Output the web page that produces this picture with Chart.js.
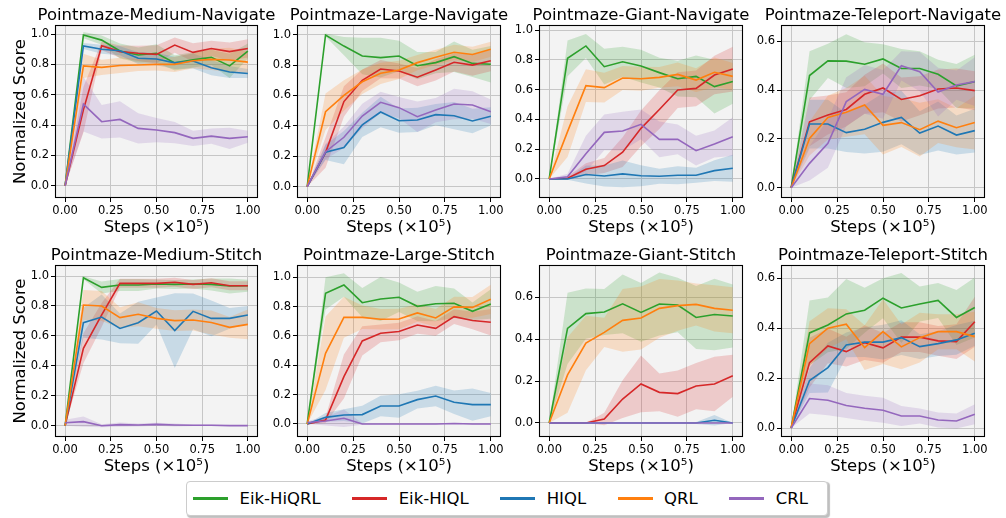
<!DOCTYPE html>
<html><head><meta charset="utf-8">
<script src="https://cdn.jsdelivr.net/npm/chart.js@4.4.1/dist/chart.umd.min.js"></script>
<style>
html,body{margin:0;padding:0;background:#fff;width:1006px;height:518px;overflow:hidden;font-family:"DejaVu Sans",sans-serif;}
canvas.pc{position:absolute;}
.ttl{position:absolute;width:300px;text-align:center;white-space:nowrap;font-size:16.5px;line-height:20px;color:#000;}
#legend{position:absolute;left:186px;top:481px;width:642px;height:35px;box-sizing:border-box;border:1px solid #cccccc;border-radius:4px;background:#fff;display:flex;align-items:center;padding-left:6px;font-size:16.5px;color:#000;box-shadow:1.5px 1.5px 1px rgba(0,0,0,0.25);white-space:nowrap;}
#legend .it{display:flex;align-items:center;margin-right:31.5px;}
#legend .it:last-child{margin-right:0;}
#legend .ln{display:inline-block;width:35px;height:3px;margin-right:11.5px;}
</style>
</head><body>
<div id="legend"></div>
<script>
// ---------------- data ----------------
const steps = [0, 0.1, 0.2, 0.3, 0.4, 0.5, 0.6, 0.7, 0.8, 0.9, 1.0];
const methods = ['Eik-HiQRL', 'Eik-HIQL', 'HIQL', 'QRL', 'CRL'];
const xTickValues = [0, 0.25, 0.5, 0.75, 1.0];
const yTicksFull = [0, 0.2, 0.4, 0.6, 0.8, 1.0];
const yTicksLow = [0, 0.2, 0.4, 0.6];
const panelTitles = ['Pointmaze-Medium-Navigate', 'Pointmaze-Large-Navigate', 'Pointmaze-Giant-Navigate', 'Pointmaze-Teleport-Navigate',
  'Pointmaze-Medium-Stitch', 'Pointmaze-Large-Stitch', 'Pointmaze-Giant-Stitch', 'Pointmaze-Teleport-Stitch'];

// rows: Eik-HiQRL, Eik-HIQL, HIQL, QRL, CRL
const medNavMean = [
  [0, 0.993, 0.96, 0.888, 0.862, 0.873, 0.81, 0.83, 0.846, 0.79, 0.888],
  [0, 0.50, 0.923, 0.884, 0.873, 0.866, 0.927, 0.879, 0.905, 0.884, 0.905],
  [0, 0.921, 0.90, 0.89, 0.84, 0.835, 0.81, 0.822, 0.778, 0.75, 0.74],
  [0, 0.79, 0.78, 0.793, 0.796, 0.80, 0.80, 0.824, 0.833, 0.829, 0.815],
  [0, 0.538, 0.422, 0.437, 0.378, 0.367, 0.35, 0.312, 0.327, 0.312, 0.323]];
const medNavStd = [
  [0, 0.02, 0.03, 0.05, 0.05, 0.06, 0.05, 0.05, 0.05, 0.08, 0.05],
  [0, 0.15, 0.03, 0.04, 0.05, 0.06, 0.05, 0.06, 0.05, 0.06, 0.06],
  [0, 0.02, 0.03, 0.03, 0.04, 0.04, 0.04, 0.05, 0.05, 0.04, 0.03],
  [0, 0.08, 0.05, 0.05, 0.04, 0.04, 0.05, 0.05, 0.07, 0.08, 0.07],
  [0, 0.18, 0.11, 0.12, 0.10, 0.08, 0.07, 0.05, 0.05, 0.07, 0.04]];

const largeNavMean = [
  [0, 0.998, 0.925, 0.86, 0.849, 0.86, 0.796, 0.816, 0.855, 0.811, 0.805],
  [0, 0.224, 0.56, 0.70, 0.774, 0.761, 0.72, 0.768, 0.818, 0.80, 0.829],
  [0, 0.226, 0.257, 0.406, 0.491, 0.434, 0.439, 0.474, 0.467, 0.432, 0.463],
  [0, 0.493, 0.60, 0.69, 0.746, 0.768, 0.816, 0.851, 0.884, 0.87, 0.904],
  [0, 0.23, 0.325, 0.465, 0.555, 0.52, 0.46, 0.504, 0.544, 0.537, 0.493]];
const largeNavStd = [
  [0, 0.01, 0.06, 0.12, 0.13, 0.10, 0.09, 0.07, 0.10, 0.09, 0.12],
  [0, 0.10, 0.10, 0.07, 0.06, 0.05, 0.06, 0.07, 0.06, 0.07, 0.07],
  [0, 0.05, 0.11, 0.08, 0.10, 0.08, 0.08, 0.07, 0.09, 0.08, 0.06],
  [0, 0.12, 0.10, 0.08, 0.07, 0.06, 0.05, 0.05, 0.05, 0.05, 0.05],
  [0, 0.05, 0.07, 0.08, 0.07, 0.07, 0.10, 0.08, 0.10, 0.09, 0.08]];

const giantNavMean = [
  [0, 0.81, 0.893, 0.754, 0.787, 0.758, 0.714, 0.673, 0.689, 0.62, 0.655],
  [0, 0.005, 0.065, 0.09, 0.18, 0.34, 0.466, 0.597, 0.608, 0.698, 0.738],
  [0, 0.0, 0.03, 0.02, 0.034, 0.022, 0.018, 0.025, 0.025, 0.056, 0.072],
  [0, 0.318, 0.626, 0.613, 0.678, 0.673, 0.682, 0.702, 0.664, 0.716, 0.689],
  [0, 0.015, 0.17, 0.313, 0.322, 0.367, 0.266, 0.266, 0.19, 0.235, 0.284]];
const giantNavStd = [
  [0, 0.12, 0.08, 0.12, 0.10, 0.11, 0.10, 0.12, 0.14, 0.18, 0.15],
  [0, 0.01, 0.04, 0.05, 0.10, 0.12, 0.13, 0.12, 0.12, 0.13, 0.15],
  [0, 0.005, 0.06, 0.07, 0.09, 0.07, 0.05, 0.06, 0.05, 0.07, 0.09],
  [0, 0.17, 0.11, 0.10, 0.08, 0.08, 0.07, 0.08, 0.08, 0.10, 0.09],
  [0, 0.02, 0.12, 0.12, 0.13, 0.10, 0.12, 0.10, 0.10, 0.09, 0.13]];

const teleNavMean = [
  [0, 0.46, 0.52, 0.519, 0.506, 0.528, 0.489, 0.489, 0.465, 0.417, 0.435],
  [0, 0.27, 0.298, 0.321, 0.383, 0.409, 0.362, 0.377, 0.405, 0.409, 0.398],
  [0, 0.261, 0.261, 0.226, 0.24, 0.268, 0.288, 0.224, 0.253, 0.216, 0.234],
  [0, 0.202, 0.288, 0.309, 0.339, 0.256, 0.267, 0.238, 0.273, 0.246, 0.267],
  [0, 0.10, 0.182, 0.353, 0.403, 0.383, 0.50, 0.476, 0.392, 0.421, 0.435]];
const teleNavStd = [
  [0, 0.10, 0.07, 0.11, 0.09, 0.06, 0.08, 0.07, 0.06, 0.09, 0.11],
  [0, 0.10, 0.08, 0.07, 0.08, 0.10, 0.09, 0.08, 0.08, 0.08, 0.08],
  [0, 0.10, 0.10, 0.08, 0.10, 0.12, 0.11, 0.09, 0.10, 0.08, 0.09],
  [0, 0.07, 0.09, 0.10, 0.12, 0.12, 0.10, 0.11, 0.09, 0.08, 0.11],
  [0, 0.07, 0.10, 0.10, 0.10, 0.10, 0.06, 0.08, 0.10, 0.06, 0.10]];

const medStitchMean = [
  [0, 0.989, 0.924, 0.94, 0.94, 0.947, 0.944, 0.947, 0.944, 0.933, 0.935],
  [0, 0.517, 0.74, 0.951, 0.951, 0.951, 0.958, 0.944, 0.955, 0.935, 0.935],
  [0, 0.688, 0.726, 0.65, 0.688, 0.766, 0.635, 0.764, 0.717, 0.717, 0.739],
  [0, 0.806, 0.80, 0.722, 0.744, 0.717, 0.702, 0.706, 0.69, 0.657, 0.677],
  [0.02, 0.027, 0.0, 0.007, 0.005, 0.009, 0.005, 0.003, 0.003, 0.0, 0.0]];
const medStitchStd = [
  [0, 0.01, 0.04, 0.04, 0.04, 0.03, 0.03, 0.03, 0.04, 0.05, 0.04],
  [0, 0.10, 0.08, 0.03, 0.03, 0.03, 0.03, 0.03, 0.03, 0.03, 0.03],
  [0, 0.10, 0.15, 0.10, 0.14, 0.09, 0.25, 0.12, 0.12, 0.07, 0.06],
  [0, 0.10, 0.10, 0.07, 0.08, 0.07, 0.07, 0.07, 0.08, 0.07, 0.10],
  [0.02, 0.035, 0.01, 0.015, 0.01, 0.01, 0.01, 0.005, 0.005, 0.003, 0.003]];

const largeStitchMean = [
  [0, 0.891, 0.948, 0.827, 0.852, 0.864, 0.802, 0.82, 0.823, 0.768, 0.818],
  [0, 0.027, 0.323, 0.566, 0.618, 0.63, 0.675, 0.652, 0.732, 0.705, 0.693],
  [0, 0.045, 0.061, 0.064, 0.123, 0.123, 0.166, 0.191, 0.148, 0.132, 0.132],
  [0, 0.482, 0.727, 0.727, 0.714, 0.716, 0.757, 0.723, 0.798, 0.795, 0.85],
  [0.01, 0.02, 0.039, 0.0, 0.0, 0.0, 0.0, 0.0, 0.003, 0.0, 0.0]];
const largeStitchStd = [
  [0, 0.11, 0.08, 0.10, 0.15, 0.10, 0.10, 0.12, 0.10, 0.06, 0.10],
  [0, 0.02, 0.15, 0.10, 0.06, 0.06, 0.06, 0.05, 0.05, 0.06, 0.09],
  [0, 0.03, 0.04, 0.06, 0.07, 0.08, 0.06, 0.07, 0.08, 0.11, 0.08],
  [0, 0.25, 0.14, 0.08, 0.07, 0.07, 0.06, 0.06, 0.07, 0.07, 0.10],
  [0.01, 0.03, 0.06, 0.005, 0.003, 0.003, 0.003, 0.003, 0.003, 0.003, 0.003]];

const giantStitchMean = [
  [0, 0.451, 0.521, 0.529, 0.568, 0.527, 0.567, 0.562, 0.503, 0.517, 0.51],
  [0, 0, 0, 0.019, 0.114, 0.186, 0.146, 0.14, 0.176, 0.186, 0.225],
  [0, 0, 0, 0, 0, 0, 0, 0, 0, 0.013, 0],
  [0, 0.229, 0.381, 0.432, 0.489, 0.50, 0.546, 0.559, 0.565, 0.546, 0.537],
  [0, 0, 0, 0, 0, 0, 0, 0, 0, 0, 0]];
const giantStitchStd = [
  [0, 0.17, 0.12, 0.11, 0.14, 0.14, 0.15, 0.13, 0.15, 0.17, 0.15],
  [0, 0, 0, 0.03, 0.09, 0.135, 0.09, 0.11, 0.11, 0.13, 0.10],
  [0, 0, 0, 0, 0, 0, 0, 0, 0.005, 0.025, 0],
  [0, 0.18, 0.13, 0.07, 0.15, 0.15, 0.14, 0.12, 0.10, 0.11, 0.11],
  [0, 0, 0, 0, 0, 0, 0, 0, 0, 0, 0]];

const teleStitchMean = [
  [0, 0.381, 0.413, 0.457, 0.472, 0.52, 0.481, 0.497, 0.511, 0.443, 0.483],
  [0, 0.262, 0.329, 0.306, 0.342, 0.321, 0.364, 0.364, 0.349, 0.346, 0.426],
  [0, 0.19, 0.242, 0.333, 0.344, 0.344, 0.362, 0.326, 0.338, 0.353, 0.38],
  [0, 0.338, 0.40, 0.416, 0.322, 0.386, 0.325, 0.362, 0.386, 0.386, 0.366],
  [0, 0.118, 0.111, 0.09, 0.079, 0.071, 0.048, 0.048, 0.032, 0.028, 0.055]];
const teleStitchStd = [
  [0, 0.13, 0.11, 0.14, 0.09, 0.08, 0.14, 0.07, 0.07, 0.11, 0.12],
  [0, 0.10, 0.07, 0.06, 0.07, 0.06, 0.06, 0.06, 0.06, 0.07, 0.10],
  [0, 0.05, 0.10, 0.05, 0.06, 0.07, 0.07, 0.05, 0.05, 0.06, 0.05],
  [0, 0.09, 0.08, 0.06, 0.09, 0.13, 0.09, 0.10, 0.07, 0.07, 0.10],
  [0, 0.06, 0.06, 0.05, 0.05, 0.05, 0.04, 0.03, 0.03, 0.03, 0.04]];

// y-axis ranges per panel
const yMins = [-0.0745, -0.068, -0.121, -0.038, -0.069, -0.082, -0.062, -0.032];
const yMaxs = [1.053, 1.057, 1.027, 0.663, 1.067, 1.077, 0.748, 0.649];

// ---------------- styles / layout ----------------
const colors = ['#2ca02c', '#d62728', '#1f77b4', '#ff7f0e', '#9467bd'];
const bandColors = ['rgba(44,160,44,0.2)', 'rgba(214,39,40,0.2)', 'rgba(31,119,180,0.2)', 'rgba(255,127,14,0.2)', 'rgba(148,103,189,0.2)'];
const FONT = 'DejaVu Sans';
const colLeft = [56, 298, 540, 782];
const colWidth = [201, 202, 202, 202];
const rowTop = [26, 266];
const rowBottom = [197, 436];
const TITLE_H = 26, XAXIS_H = 45, PAD_R = 10;

Chart.defaults.font.family = FONT;

const panelMeans = [medNavMean, largeNavMean, giantNavMean, teleNavMean, medStitchMean, largeStitchMean, giantStitchMean, teleStitchMean];
const panelStds = [medNavStd, largeNavStd, giantNavStd, teleNavStd, medStitchStd, largeStitchStd, giantStitchStd, teleStitchStd];
const panelYTicks = [yTicksFull, yTicksFull, yTicksFull, yTicksLow, yTicksFull, yTicksFull, yTicksLow, yTicksLow];

const framePlugin = {
  id: 'frame',
  beforeDraw(chart) {
    const a = chart.chartArea, ctx = chart.ctx;
    ctx.save();
    ctx.fillStyle = '#f3f3f3';
    ctx.fillRect(a.left, a.top, a.right - a.left, a.bottom - a.top);
    ctx.restore();
  },
  afterDraw(chart) {
    const a = chart.chartArea, ctx = chart.ctx;
    ctx.save();
    ctx.strokeStyle = '#000';
    ctx.lineWidth = 1.1;
    ctx.strokeRect(Math.round(a.left) - 0.5, Math.round(a.top) - 0.5, Math.round(a.right - a.left) + 1, Math.round(a.bottom - a.top) + 1);
    ctx.restore();
  }
};

function pts(vals) { return steps.map((s, i) => ({x: s, y: vals[i]})); }

for (let p = 0; p < 8; p++) {
  const r = Math.floor(p / 4), c = p % 4;
  const yw = c === 0 ? 56 : 40;
  const cw = yw + colWidth[c] + PAD_R;
  const ch = TITLE_H + (rowBottom[r] - rowTop[r]) + XAXIS_H;
  const cv = document.createElement('canvas');
  cv.className = 'pc';
  cv.width = cw; cv.height = ch;
  cv.style.left = (colLeft[c] - yw) + 'px';
  cv.style.top = (rowTop[r] - TITLE_H) + 'px';
  cv.style.width = cw + 'px'; cv.style.height = ch + 'px';
  document.body.appendChild(cv);

  const t = document.createElement('div');
  t.className = 'ttl';
  t.textContent = panelTitles[p];
  t.style.left = (colLeft[c] + colWidth[c] / 2 - 150) + 'px';
  t.style.top = (rowTop[r] - 21) + 'px';
  document.body.appendChild(t);

  const mean = panelMeans[p], sd = panelStds[p];
  const datasets = [];
  // lines: last method drawn on top (dataset 0 is on top in Chart.js)
  for (let k = methods.length - 1; k >= 0; k--) {
    datasets.push({label: methods[k], data: pts(mean[k]), borderColor: colors[k], borderWidth: 1.6,
      pointRadius: 0, fill: false, tension: 0});
  }
  for (let k = methods.length - 1; k >= 0; k--) {
    const up = mean[k].map((m, i) => m + sd[k][i]);
    const lo = mean[k].map((m, i) => m - sd[k][i]);
    datasets.push({label: methods[k] + ' upper', data: pts(up), borderWidth: 0, borderColor: 'transparent',
      backgroundColor: bandColors[k], pointRadius: 0, fill: '+1', tension: 0});
    datasets.push({label: methods[k] + ' lower', data: pts(lo), borderWidth: 0, borderColor: 'transparent',
      pointRadius: 0, fill: false, tension: 0});
  }

  new Chart(cv, {
    type: 'line',
    data: {datasets},
    plugins: [framePlugin],
    options: {
      responsive: false, animation: false, devicePixelRatio: 1, events: [],
      layout: {padding: {left: 0, right: PAD_R, top: TITLE_H, bottom: 0}},
      plugins: {
        legend: {display: false}, tooltip: {enabled: false}, title: {display: false},
        filler: {propagate: false, drawTime: 'beforeDatasetsDraw'}
      },
      scales: {
        x: {
          type: 'linear', min: -0.05, max: 1.05,
          afterBuildTicks: s => { s.ticks = xTickValues.map(v => ({value: v})); },
          afterFit: s => { s.height = XAXIS_H; },
          ticks: {callback: v => Number(v).toFixed(2), color: '#000', font: {family: FONT, size: 11.5}, padding: 2, maxRotation: 0, autoSkip: false},
          grid: {color: '#c6c6c6', lineWidth: 1, tickLength: 5, tickColor: '#000', drawTicks: true},
          border: {display: false},
          title: {display: true, text: 'Steps (×10⁵)', color: '#000', font: {family: FONT, size: 16.5, lineHeight: 1.2}, padding: {top: 0, bottom: 4}}
        },
        y: {
          type: 'linear', min: yMins[p], max: yMaxs[p],
          afterBuildTicks: s => { s.ticks = panelYTicks[p].map(v => ({value: v})); },
          afterFit: s => { s.width = yw; },
          ticks: {callback: v => Number(v).toFixed(1), color: '#000', font: {family: FONT, size: 11.5}, padding: 2, autoSkip: false},
          grid: {color: '#c6c6c6', lineWidth: 1, tickLength: 5, tickColor: '#000', drawTicks: true},
          border: {display: false},
          title: {display: c === 0, text: 'Normalized Score', color: '#000', font: {family: FONT, size: 16.5, lineHeight: 1.2}, padding: {top: 11, bottom: 0}}
        }
      }
    }
  });
}

// legend
const leg = document.getElementById('legend');
methods.forEach((m, k) => {
  const it = document.createElement('span');
  it.className = 'it';
  const ln = document.createElement('span');
  ln.className = 'ln';
  ln.style.background = colors[k];
  it.appendChild(ln);
  it.appendChild(document.createTextNode(m));
  leg.appendChild(it);
});
</script>
</body></html>
